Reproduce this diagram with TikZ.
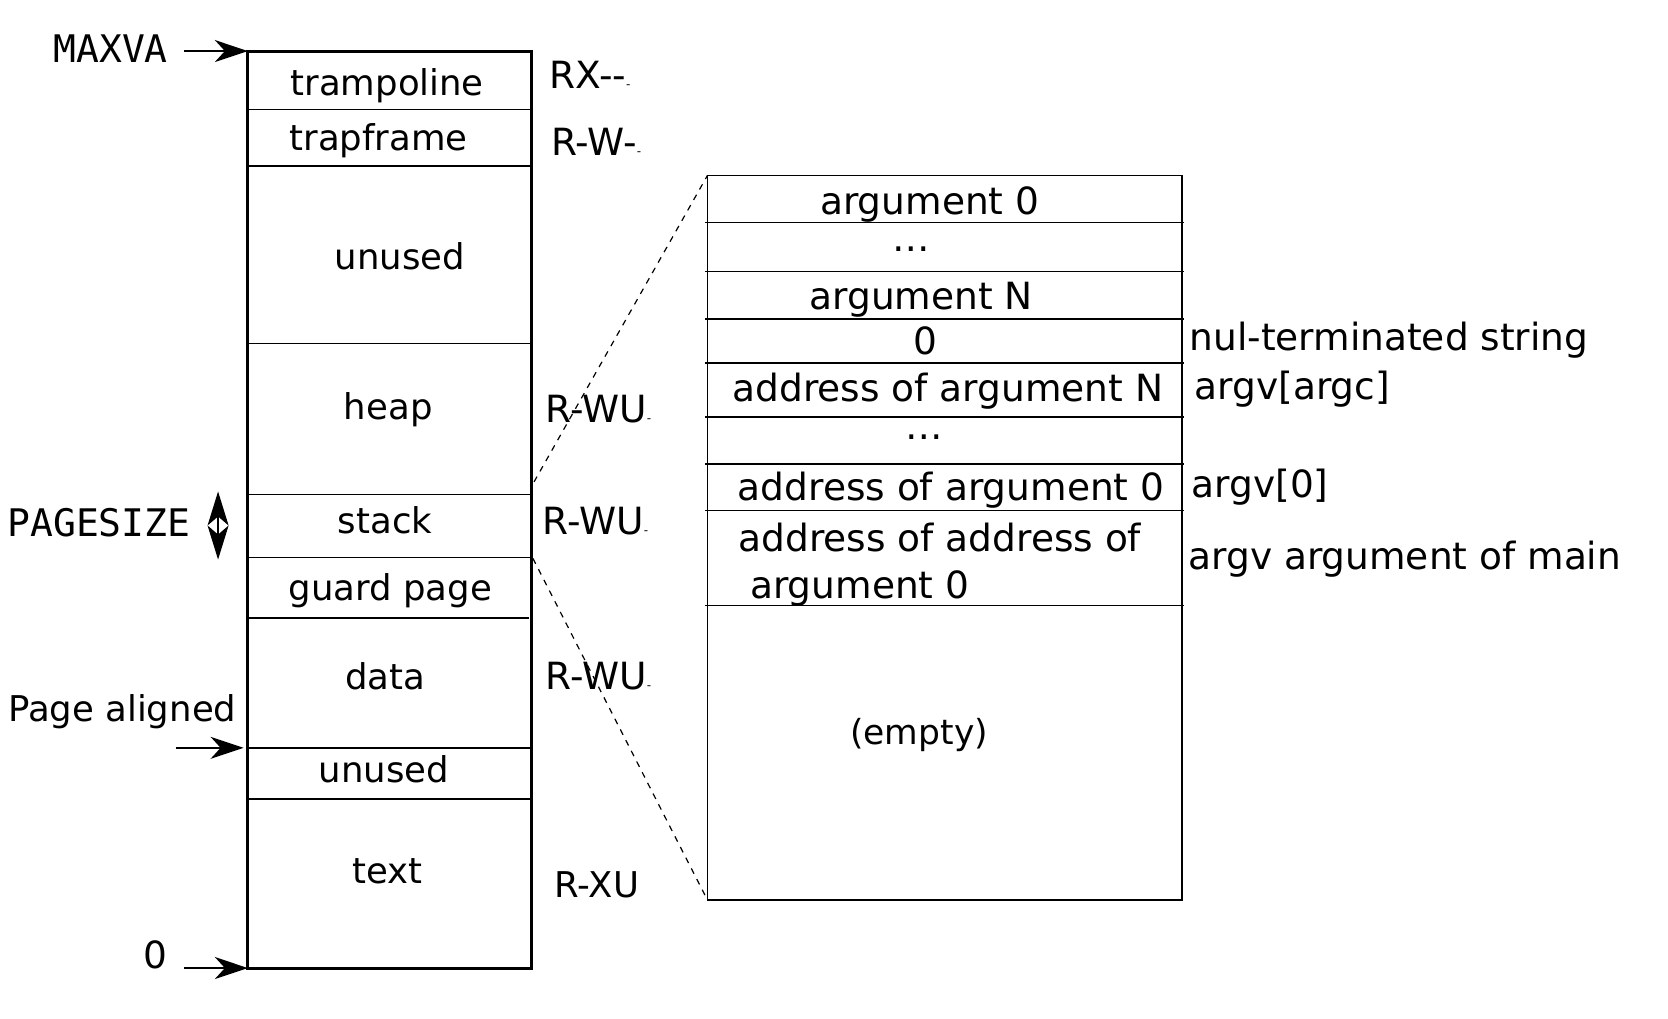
\documentclass[tikz,border=0pt]{standalone}
\usepackage{fontspec}
\setmainfont{DejaVu Sans}
\setmonofont{DejaVu Sans Mono}
\usetikzlibrary{arrows.meta}
\newcommand\mainfs{\fontsize{37.5}{44}\selectfont}
\newcommand\segfs{\fontsize{35.5}{42}\selectfont}
\newcommand\emptyfs{\fontsize{34.5}{41}\selectfont}
\newcommand\monofs{\fontsize{38}{44}\selectfont\ttfamily}
\newcommand\sdash{{\fontsize{12}{12}\selectfont -}}
\begin{document}
\begin{tikzpicture}[x=1.0638pt,y=-1.0638pt,
  every node/.style={inner sep=0pt, font=\mainfs},
  seg/.style={font=\segfs},
  frame/.style={line width=3pt},
  rframe/.style={line width=1.8pt},
  div/.style={line width=1.5pt},
  arr/.style={line width=1.8pt, -{Stealth[length=33pt,width=22pt,inset=10pt]}},
  dblarr/.style={line width=1.2pt, {Stealth[length=34pt,width=21pt,inset=9pt]}-{Stealth[length=34pt,width=21pt,inset=9pt]}},
  dashline/.style={line width=1.2pt, dash pattern=on 6pt off 6pt},
]
\useasboundingbox (0,0) rectangle (1568,957);

% ---------- left box ----------
\coordinate (boxTL) at (233,48);
\coordinate (boxBR) at (500,910);
\coordinate (boxBL) at (233,910);
\foreach \y in {103,156,323,465,524,703,751} \draw[div] (233,\y) -- (500,\y);
\draw[div] (231,581) -- (497,581);
\draw[frame] (boxTL) rectangle (boxBR);

\node[seg] (tramp) at (364,81) {trampoline};
\node[seg] (trapf) at (356,132) {trapframe};
\node[seg] (unusedA) at (376,241) {unused};
\node[seg] (heap) at (365,385) {heap};
\node[seg] (stack) at (362,489) {stack};
\node[seg] (guard) at (367,555) {guard page};
\node[seg] (data) at (362,636) {data};
\node[seg] (unusedB) at (361,723) {unused};
\node[seg] (textseg) at (364,819) {text};

\node[anchor=west] (permA) at (516,70) {RX-{}-\sdash};
\node[anchor=west] (permB) at (518,133) {R-W-\sdash};
\node[anchor=west] (permC) at (513,385) {R-WU\sdash};
\node[anchor=west] (permD) at (510,490) {R-WU\sdash};
\node[anchor=west] (permE) at (513,636) {R-WU\sdash};
\node[anchor=west, seg] (permF) at (521,832) {R-XU};

% ---------- left labels ----------
\node[font=\monofs] (maxva) at (104,46) {MAXVA};
\node[font=\monofs] (pagesize) at (93,491) {PAGESIZE};
\node[seg] (pagealigned) at (115,669) {Page aligned};
\node (zero) at (146,898) {0};

\coordinate (maxvaTail) at (173,48);
\coordinate (paTail) at (165,703);
\coordinate (paTip) at (229,703);
\coordinate (zeroTail) at (173,910);
\coordinate (psTop) at (205,462);
\coordinate (psBot) at (205,526);
\draw[arr] (maxvaTail) -- (boxTL);
\draw[arr] (paTail) -- (paTip);
\draw[arr] (zeroTail) -- (boxBL);
\draw[dblarr] (psTop) -- (psBot);

% ---------- right box ----------
\coordinate (rTL) at (665,165);
\coordinate (rBR) at (1111,846);
\coordinate (rBL) at (665,846);
\foreach \y in {209,255,300,341,392,436,480,569} \draw[div] (663,\y) -- (1113,\y);
\draw[rframe] (rTL) rectangle (rBR);

\node (argA) at (874,192) {argument 0};
\node (dotsA) at (857,234) {…};
\node (argN) at (866,282) {argument N};
\node (nul) at (870,320) {0};
\node (addrN) at (891,368) {address of argument N};
\node (dotsB) at (869,411) {…};
\node (addrA) at (894,461) {address of argument 0};
\node[anchor=west] (addraddrA) at (694,505) {address of address of};
\node[anchor=west] (addraddrB) at (705,553) {argument 0};
\node[font=\emptyfs] (empty) at (864,691) {(empty)};

\node[anchor=west] (lblnul) at (1118,320) {nul-terminated string};
\node[anchor=west] (lblargc) at (1123,366) {argv[argc]};
\node[anchor=west] (lblargz) at (1120,458) {argv[0]};
\node[anchor=west] (lblmain) at (1117,526) {argv argument of main};

% ---------- zoom lines ----------
\coordinate (zA) at (502,453);
\coordinate (zB) at (501,525);
\draw[dashline] (zA) -- (rTL);
\draw[dashline] (zB) -- (rBL);
\end{tikzpicture}
\end{document}
